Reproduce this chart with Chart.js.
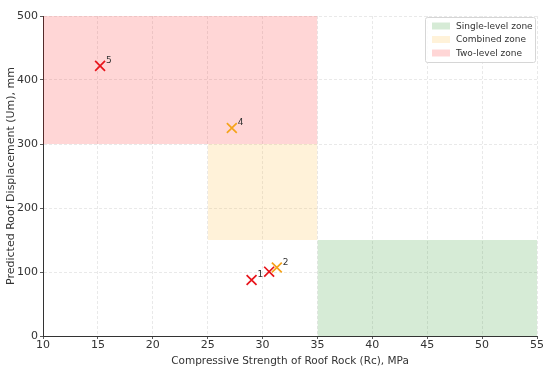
<!DOCTYPE html>
<html>
<head>
<meta charset="utf-8">
<script src="https://cdn.jsdelivr.net/npm/chart.js@4.4.1/dist/chart.umd.min.js"></script>
<style>
  html, body { margin: 0; padding: 0; background: #fff; }
  #wrap { width: 550px; height: 368px; }
</style>
</head>
<body>
<div id="wrap"><canvas id="chart" width="550" height="368"></canvas></div>
<script>
// zones (x from..to, y from..to)
const zoneNames = ["Single-level zone", "Combined zone", "Two-level zone"];
const zoneX0 = [35, 25, 10];
const zoneX1 = [55, 35, 35];
const zoneY0 = [0, 150, 300];
const zoneY1 = [150, 300, 500];
const zoneColors = ["rgba(0,128,0,0.16)", "rgba(255,165,0,0.15)", "rgba(255,0,0,0.16)"];

// points
const redX = [15.2, 29.0, 30.6];
const redY = [422, 87.5, 100.5];
const redLabels = ["5", "1", ""];
const orangeX = [27.2, 31.3];
const orangeY = [325, 107];
const orangeLabels = ["4", "2"];

const xMin = 10, xMax = 55, xStep = 5;
const yMin = 0, yMax = 500, yStep = 100;

const FONT = "'DejaVu Sans', sans-serif";

const zoneSets = zoneNames.map((name, i) => ({
  type: "line",
  label: name,
  data: [{ x: zoneX0[i], y: zoneY0[i] }, { x: zoneX1[i], y: zoneY0[i] }],
  fill: { value: zoneY1[i] },
  backgroundColor: zoneColors[i],
  borderColor: "rgba(0,0,0,0)",
  borderWidth: 0,
  pointRadius: 0,
  order: 5,
}));

function pts(xs, ys) { return xs.map((x, i) => ({ x: x, y: ys[i] })); }

const pointSets = [
  { type: "scatter", label: "red", data: pts(redX, redY), tags: redLabels,
    pointStyle: "crossRot", pointRadius: 7, borderColor: "#e8131a", borderWidth: 1.7, order: 0 },
  { type: "scatter", label: "orange", data: pts(orangeX, orangeY), tags: orangeLabels,
    pointStyle: "crossRot", pointRadius: 7, borderColor: "#f5a31a", borderWidth: 1.7, order: 0 },
];

// little number next to each marker
const tagPlugin = {
  id: "tags",
  afterDatasetsDraw(chart) {
    const ctx = chart.ctx;
    ctx.save();
    ctx.font = "9px " + FONT;
    ctx.fillStyle = "#333";
    ctx.textBaseline = "alphabetic";
    chart.data.datasets.forEach((ds, di) => {
      if (!ds.tags) return;
      chart.getDatasetMeta(di).data.forEach((el, i) => {
        if (ds.tags[i]) ctx.fillText(ds.tags[i], el.x + 6, el.y - 3);
      });
    });
    ctx.restore();
  }
};

// matplotlib-like legend box in the top right
const boxLegend = {
  id: "boxLegend",
  afterDraw(chart) {
    const ctx = chart.ctx;
    const area = chart.chartArea;
    const w = 110, h = 45;
    const x = area.right - w - 2, y = area.top + 1;
    ctx.save();
    ctx.fillStyle = "rgba(255,255,255,0.85)";
    ctx.strokeStyle = "#d6d6d6";
    ctx.lineWidth = 1;
    ctx.beginPath();
    ctx.roundRect(x + 0.5, y + 0.5, w, h, 2);
    ctx.fill();
    ctx.stroke();
    ctx.font = "9px " + FONT;
    ctx.textBaseline = "middle";
    zoneNames.forEach((name, i) => {
      const ry = y + 9 + i * 13.5;
      ctx.fillStyle = zoneColors[i];
      ctx.fillRect(x + 7, ry - 3.5, 18, 7);
      ctx.fillStyle = "#333";
      ctx.fillText(name, x + 31, ry + 0.5);
    });
    ctx.restore();
  }
};

new Chart(document.getElementById("chart"), {
  type: "scatter",
  data: { datasets: zoneSets.concat(pointSets) },
  plugins: [tagPlugin, boxLegend],
  options: {
    responsive: false,
    animation: false,
    layout: { padding: { top: 16, right: 13, left: 0, bottom: 0 } },
    plugins: { legend: { display: false }, tooltip: { enabled: false } },
    scales: {
      x: {
        type: "linear", min: xMin, max: xMax,
        ticks: { stepSize: xStep, color: "#333", font: { family: FONT, size: 11 }, padding: 0, maxRotation: 0 },
        grid: { color: "#e3e3e3", lineWidth: 0.8, tickLength: 3, tickColor: "#333" },
        border: { display: true, color: "#333", width: 1, dash: [3, 2] },
        title: { display: true, text: "Compressive Strength of Roof Rock (Rc), MPa",
                 color: "#333", font: { family: FONT, size: 10.5 }, padding: { top: 0, bottom: 0 } },
        afterFit(s) { s.height = 32; },
      },
      y: {
        type: "linear", min: yMin, max: yMax,
        ticks: { stepSize: yStep, color: "#333", font: { family: FONT, size: 11 }, padding: 2 },
        grid: { color: "#e3e3e3", lineWidth: 0.8, tickLength: 3, tickColor: "#333" },
        border: { display: true, color: "#333", width: 1, dash: [3, 2] },
        title: { display: true, text: "Predicted Roof Displacement (Um), mm",
                 color: "#333", font: { family: FONT, size: 11 }, padding: { top: 5, bottom: 0 } },
        afterFit(s) { s.width = 43; },
      },
    },
  },
});
</script>
</body>
</html>
